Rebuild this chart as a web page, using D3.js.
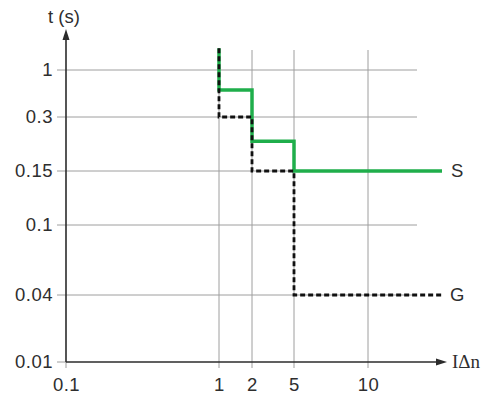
<!DOCTYPE html>
<html>
<head>
<meta charset="utf-8">
<script src="https://cdn.jsdelivr.net/npm/d3@7"></script>
<style>
  body { margin: 0; background: #fff; }
  svg { display: block; }
</style>
</head>
<body>
<svg id="chart" width="482" height="398"></svg>
<script>
(function() {

// tick values on both axes
const xTicks = [0.1, 1, 2, 5, 10];
const yTicks = [0.01, 0.04, 0.1, 0.15, 0.3, 1];

// tripping curves: IΔn multiples and times (s)
const sCurrent = [1, 1, 2, 5, 20];
const sTime = [1.75, 0.6, 0.22, 0.15, 0.15];
const gCurrent = [1, 1, 2, 5, 20];
const gTime = [1.75, 0.3, 0.15, 0.04, 0.04];

const svg = d3.select('#chart');

// the axes are drawn with uneven log spacing, so piecewise log scales
const x = d3.scaleLog()
  .domain([0.1, 1, 2, 5, 10])
  .range([66, 219, 252, 294, 368]);

const y = d3.scaleLog()
  .domain([0.01, 0.04, 0.1, 0.15, 0.3, 1])
  .range([362, 295, 225, 171, 117, 70]);

const gridColor = '#9e9e9e';
const axisColor = '#2b2b2b';
const font = '"Liberation Sans", Arial, sans-serif';

// grid
svg.append('g')
  .selectAll('line')
  .data(yTicks.slice(1))
  .enter().append('line')
    .attr('x1', 57)
    .attr('x2', 417)
    .attr('y1', d => y(d))
    .attr('y2', d => y(d))
    .attr('stroke', gridColor)
    .attr('stroke-width', 1);

svg.append('g')
  .selectAll('line')
  .data(xTicks.slice(1))
  .enter().append('line')
    .attr('x1', d => x(d))
    .attr('x2', d => x(d))
    .attr('y1', 50)
    .attr('y2', 368)
    .attr('stroke', gridColor)
    .attr('stroke-width', 1);

// small stubs at the origin
svg.append('line')
  .attr('x1', 57).attr('x2', x(0.1))
  .attr('y1', y(0.01)).attr('y2', y(0.01))
  .attr('stroke', gridColor);
svg.append('line')
  .attr('x1', x(0.1)).attr('x2', x(0.1))
  .attr('y1', y(0.01)).attr('y2', 368)
  .attr('stroke', gridColor);

// tick labels
const yAxis = svg.append('g')
  .attr('transform', 'translate(57,0)')
  .call(d3.axisLeft(y).tickValues(yTicks).tickSize(0).tickPadding(4)
    .tickFormat(d => String(d)));

const xAxis = svg.append('g')
  .attr('transform', 'translate(0,368)')
  .call(d3.axisBottom(x).tickValues(xTicks).tickSize(0).tickPadding(10)
    .tickFormat(d => String(d)));

[yAxis, xAxis].forEach(g => {
  g.select('.domain').remove();
  g.selectAll('text')
    .attr('fill', '#2e2e2e')
    .style('font-family', font)
    .style('font-size', '18.5px')
    .style('letter-spacing', '0.5px');
});

// curves
const line = d3.line()
  .x(d => x(d[0]))
  .y(d => y(d[1]))
  .curve(d3.curveStepAfter);

svg.append('path')
  .datum(d3.zip(sCurrent, sTime))
  .attr('d', line)
  .attr('fill', 'none')
  .attr('stroke', '#1fae4b')
  .attr('stroke-width', 3.5);

svg.append('path')
  .datum(d3.zip(gCurrent, gTime))
  .attr('d', line)
  .attr('fill', 'none')
  .attr('stroke', '#111')
  .attr('stroke-width', 2.8)
  .attr('stroke-dasharray', '5,3');

// axis lines with arrows
svg.append('line')
  .attr('x1', x(0.1)).attr('x2', x(0.1))
  .attr('y1', y(0.01)).attr('y2', 38)
  .attr('stroke', axisColor)
  .attr('stroke-width', 1.6);
svg.append('path')
  .attr('d', `M${x(0.1)},29 L${x(0.1) - 3.5},40 L${x(0.1) + 3.5},40 Z`)
  .attr('fill', axisColor);

svg.append('line')
  .attr('x1', x(0.1)).attr('x2', 438)
  .attr('y1', y(0.01)).attr('y2', y(0.01))
  .attr('stroke', axisColor)
  .attr('stroke-width', 1.6);
svg.append('path')
  .attr('d', `M447,${y(0.01)} L436,${y(0.01) - 3.5} L436,${y(0.01) + 3.5} Z`)
  .attr('fill', axisColor);

// axis titles
svg.append('text')
  .attr('x', 48)
  .attr('y', 23)
  .attr('fill', '#2e2e2e')
  .style('font-family', font)
  .style('font-size', '18.5px')
  .text('t (s)');

svg.append('text')
  .attr('x', 452)
  .attr('y', 368)
  .attr('fill', '#2e2e2e')
  .style('font-family', '"Liberation Serif", "Times New Roman", serif')
  .style('font-size', '19px')
  .text('IΔn');

// curve labels
svg.append('text')
  .attr('x', 451)
  .attr('y', y(0.15))
  .attr('dy', '0.3em')
  .attr('fill', '#2e2e2e')
  .style('font-family', font)
  .style('font-size', '18.5px')
  .text('S');

svg.append('text')
  .attr('x', 450)
  .attr('y', y(0.04))
  .attr('dy', '0.3em')
  .attr('fill', '#2e2e2e')
  .style('font-family', font)
  .style('font-size', '18.5px')
  .text('G');

})();
</script>
</body>
</html>
